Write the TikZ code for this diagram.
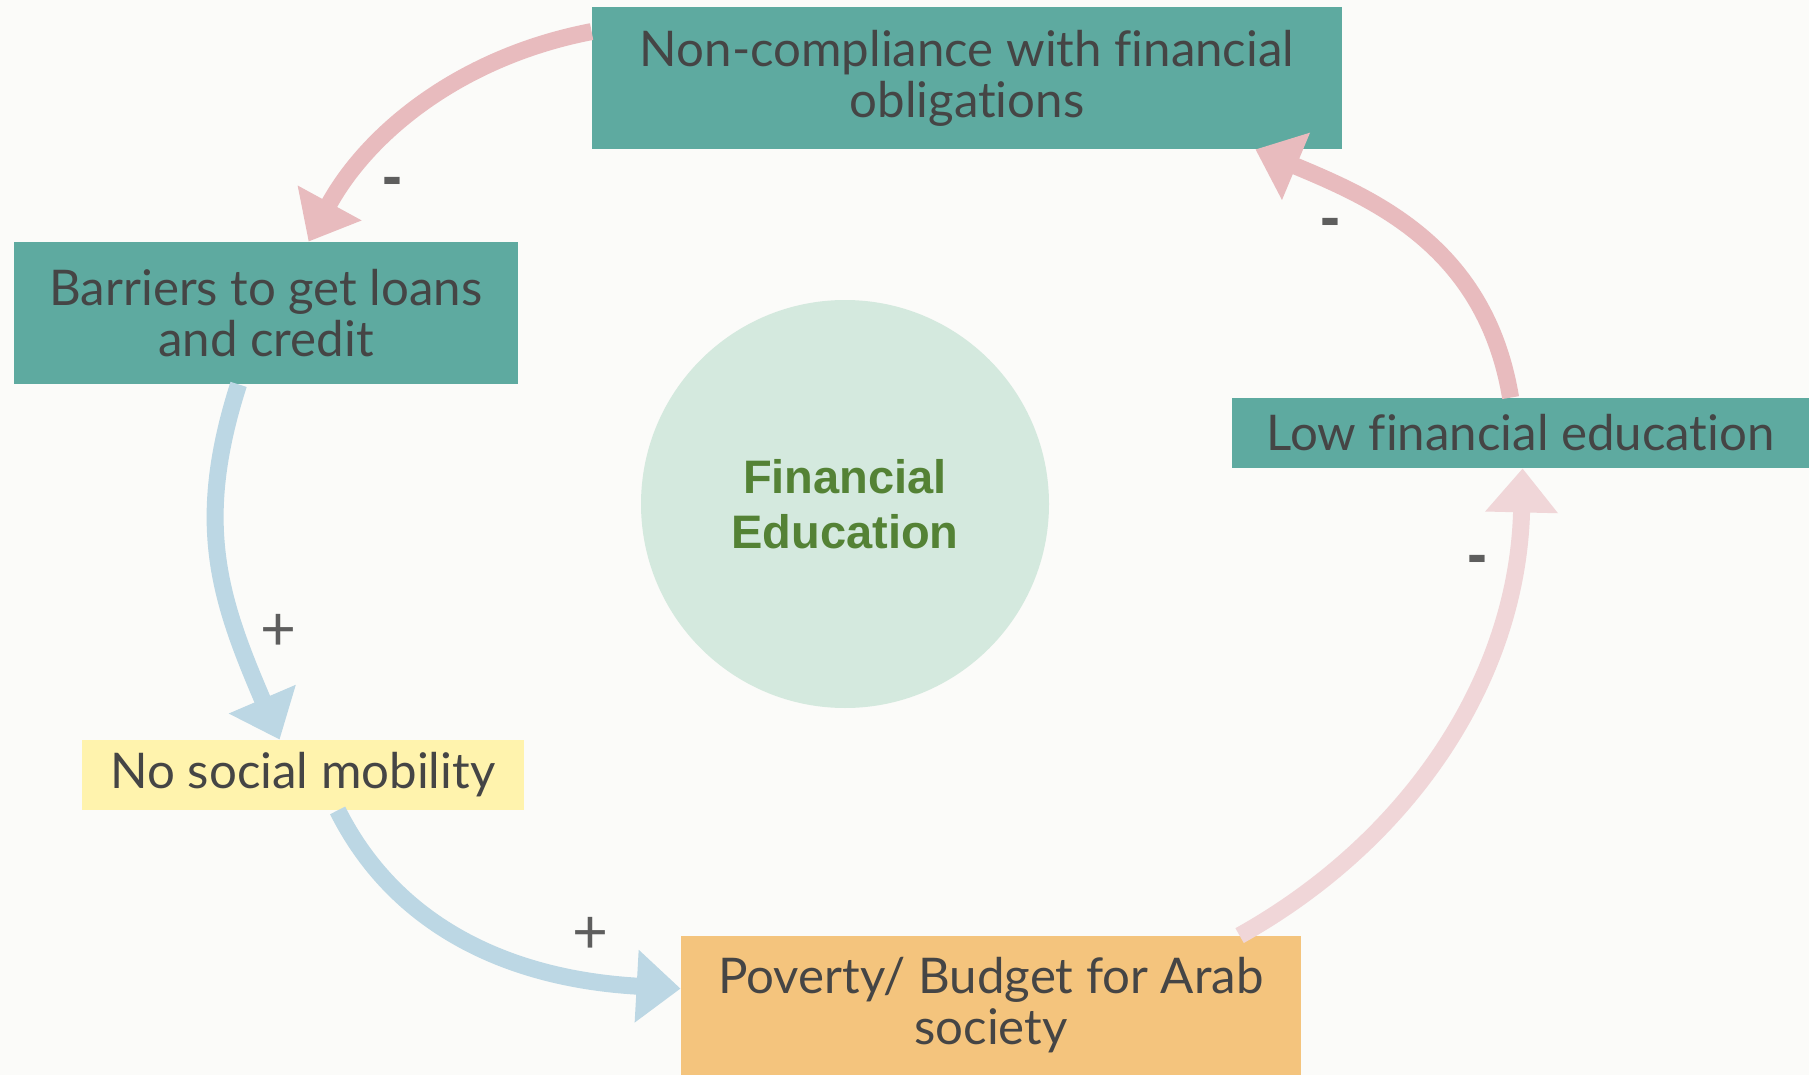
\documentclass[tikz,border=0pt]{standalone}
\usepackage{fontspec}
\setmainfont{Lato}[Ligatures=NoCommon]
\newfontfamily\arialfont{Liberation Sans}
\usetikzlibrary{arrows.meta}
\definecolor{bgcol}{HTML}{FBFBF9}
\definecolor{boxteal}{HTML}{5EAAA0}
\definecolor{boxyellow}{HTML}{FFF3AD}
\definecolor{boxorange}{HTML}{F4C47D}
\definecolor{circfill}{HTML}{D4E9DE}
\definecolor{txtgray}{HTML}{454545}
\definecolor{signgray}{HTML}{5E5E5E}
\definecolor{arrpink}{HTML}{E8BBBE}
\definecolor{arrpinklight}{HTML}{F0D6D8}
\definecolor{arrblue}{HTML}{BCD7E4}
\definecolor{fegreen}{HTML}{548235}
\begin{document}
\begin{tikzpicture}[x=0.5pt,y=-0.5pt,
  box/.style={rectangle, inner sep=0pt, align=center, text=txtgray, font=\fontsize{24.6}{25.5}\selectfont},
  link/.style={line width=8.5pt, -{Triangle[width=35pt,length=22pt]}},
  pluslbl/.style={text=signgray, inner sep=0pt, font=\fontsize{31}{32}\selectfont},
  minuslbl/.style={text=signgray, inner sep=0pt, font=\arialfont\bfseries\fontsize{30}{32}\selectfont}]
\fill[bgcol] (0,0) rectangle (1809,1075);
\useasboundingbox (0,0) rectangle (1809,1075);

\node[circle, fill=circfill, minimum size=204pt, inner sep=0pt, align=center, text=fegreen,
  font=\arialfont\bfseries\fontsize{23.5}{27.5}\selectfont] (fe) at (845,504) {Financial\\Education};

\node[box, fill=boxteal, minimum width=375pt, minimum height=71pt] (top) at (967,78) {Non-compliance with financial\\obligations};
\node[box, fill=boxteal, minimum width=252pt, minimum height=71pt] (bar) at (266,313) {Barriers to get loans\\and credit};
\node[box, fill=boxteal, minimum width=288.5pt, minimum height=35pt] (low) at (1520.5,433) {Low financial education};
\node[box, fill=boxyellow, minimum width=221pt, minimum height=35pt] (nos) at (303,775) {No social mobility};
\node[box, fill=boxorange, minimum width=310pt, minimum height=69.5pt] (pov) at (991,1005.5) {Poverty/ Budget for Arab\\society};

\draw[link, arrpink] ([yshift=-12.5pt]top.north west) .. controls +(-130,25) and +(60,-110) .. ([xshift=147.5pt]bar.north west);
\draw[link, arrblue] ([xshift=112.5pt]bar.south west) .. controls +(-45,140) and +(-60,-140) .. ([xshift=99pt]nos.north west);
\draw[link, arrblue] ([xshift=128pt]nos.south west) .. controls +(55,110) and +(-180,-10) .. ([yshift=-26.5pt]pov.north west);
\draw[link, arrpinklight] ([xshift=279.5pt]pov.north west) .. controls +(170,-95) and +(-5,210) .. ([xshift=145.5pt]low.south west);
\draw[link, arrpink] ([xshift=139.5pt]low.north west) .. controls +(-25,-150) and +(120,50) .. ([xshift=-43.5pt]top.south east);

\node[minuslbl] (s1) at (392,187) {-};
\node[pluslbl] (s2) at (278,632) {+};
\node[pluslbl] (s3) at (590,935) {+};
\node[minuslbl] (s4) at (1477,565) {-};
\node[minuslbl] (s5) at (1330,228) {-};
\end{tikzpicture}
\end{document}
